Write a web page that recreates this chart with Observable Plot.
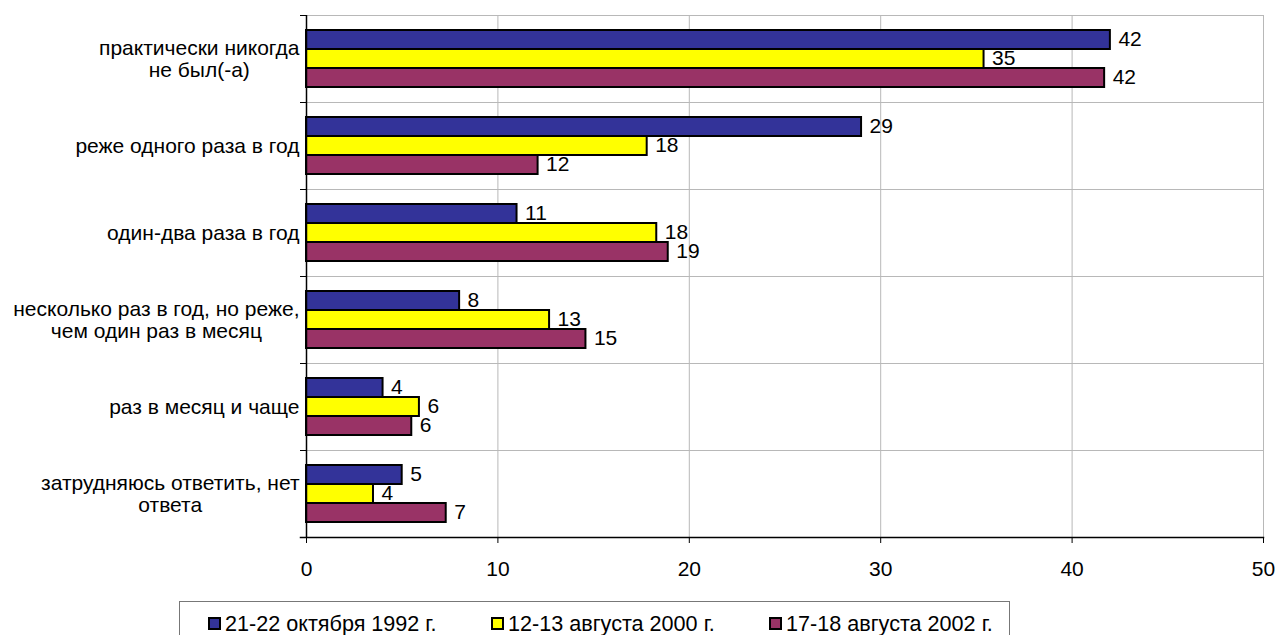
<!DOCTYPE html>
<html><head><meta charset="utf-8">
<script src="https://cdn.jsdelivr.net/npm/d3@7"></script>
<script src="https://cdn.jsdelivr.net/npm/@observablehq/plot@0.6"></script>
<style>
html,body{margin:0;padding:0;background:#fff;overflow:hidden;width:1275px;height:635px;}
#chart{position:absolute;left:0;top:0;}
#legend{position:absolute;left:179px;top:601px;width:831px;height:50px;border:1px solid #777;box-sizing:border-box;font-family:'Liberation Sans',Arial,sans-serif;font-size:21.6px;color:#000;}
.item{position:absolute;top:10px;display:flex;align-items:center;white-space:nowrap;line-height:23px;}
.sw{width:9px;height:9px;border:2px solid #000;margin-right:4px;}
</style></head><body>
<div id="chart"></div><div id="legend"></div>
<script>
// ---- data ----
const categories = [
  "практически никогда не был(-а)",
  "реже одного раза в год",
  "один-два раза в год",
  "несколько раз в год, но реже, чем один раз в месяц",
  "раз в месяц и чаще",
  "затрудняюсь ответить, нет ответа"
];
const categoryLines = [
  "практически никогда\nне был(-а)",
  "реже одного раза в год",
  "один-два раза в год",
  "несколько раз в год, но реже,\nчем один раз в месяц",
  "раз в месяц и чаще",
  "затрудняюсь ответить, нет\nответа"
];
const series = ["21-22 октября 1992 г.", "12-13 августа 2000 г.", "17-18 августа 2002 г."];
const colors = ["#333399", "#FFFF00", "#993366"];
const values1992 = [42.0, 29.0, 11.0, 8.0, 4.0, 5.0];
const values2000 = [35.4, 17.8, 18.3, 12.7, 5.9, 3.5];
const values2002 = [41.7, 12.1, 18.9, 14.6, 5.5, 7.3];
const labels1992 = ["42", "29", "11", "8", "4", "5"];
const labels2000 = ["35", "18", "18", "13", "6", "4"];
const labels2002 = ["42", "12", "19", "15", "6", "7"];
const xTicks = [0, 10, 20, 30, 40, 50];

// ---- table ----
const seriesValues = [values1992, values2000, values2002];
const seriesLabels = [labels1992, labels2000, labels2002];
const data = [];
categories.forEach((c, i) => {
  series.forEach((s, j) => {
    data.push({cat: c, series: s, value: seriesValues[j][i], label: seriesLabels[j][i]});
  });
});

// ---- layout ----
const W = 1275, H = 590;
const mL = 306, mR = 12, mT = 14, mB = 52;
const FONT = "'Liberation Sans', Arial, sans-serif";
const FS = 21;
const ctx = document.createElement("canvas").getContext("2d");
ctx.font = `${FS}px 'Liberation Sans'`;
const labelGap = 7;

const catLabelMarks = categories.map((c, i) => {
  const lines = categoryLines[i].split("\n");
  const w = Math.max(...lines.map(l => ctx.measureText(l).width));
  return Plot.text([c], {
    fy: d => d,
    text: () => categoryLines[i],
    frameAnchor: "left",
    textAnchor: "middle",
    dx: -(labelGap + w / 2),
    lineHeight: 1.03,
    fontSize: FS,
    fill: "#000"
  });
});

const plot = Plot.plot({
  width: W, height: H,
  marginLeft: mL, marginRight: mR, marginTop: mT, marginBottom: mB,
  style: {fontFamily: FONT, fontSize: FS + "px", color: "#000", background: "#fff"},
  x: {domain: [0, 50], label: null},
  fy: {domain: categories, padding: 0, axis: null, label: null},
  y: {domain: series, paddingInner: 0, paddingOuter: 0.74, align: 0.5, axis: null, label: null},
  color: {domain: series, range: colors},
  marks: [
    Plot.frame({stroke: "#b8b8b8", strokeWidth: 1}),
    Plot.ruleX(xTicks.slice(1), {stroke: "#b8b8b8", strokeWidth: 1}),
    Plot.barX(data, {fy: "cat", y: "series", x: "value", fill: "series", stroke: "#000", strokeWidth: 2, inset: 0}),
    Plot.text(data, {fy: "cat", y: "series", x: "value", text: "label", textAnchor: "start", dx: 8, dy: -1, fontSize: FS, fill: "#000"}),
    ...catLabelMarks,
    Plot.ruleX([0], {stroke: "#000", strokeWidth: 1.5}),
    Plot.frame({anchor: "top", stroke: "#000", strokeWidth: 1, insetLeft: -6, insetRight: W - mL - mR}),
    Plot.frame({anchor: "bottom", stroke: "#000", strokeWidth: 1.5, insetLeft: -6, facetAnchor: "bottom"}),
    Plot.axisX({ticks: xTicks, tickSize: 6, tickPadding: 18, fontSize: FS, label: null, tickFormat: d => String(d)})
  ]
});
document.getElementById("chart").appendChild(plot);

// ---- legend ----
const legend = document.getElementById("legend");
const itemLeft = [28, 311, 589];
series.forEach((s, j) => {
  const it = document.createElement("div");
  it.className = "item";
  it.style.left = itemLeft[j] + "px";
  const sw = document.createElement("span");
  sw.className = "sw";
  sw.style.background = colors[j];
  const tx = document.createElement("span");
  tx.textContent = s;
  it.appendChild(sw); it.appendChild(tx);
  legend.appendChild(it);
});
</script>
</body></html>
